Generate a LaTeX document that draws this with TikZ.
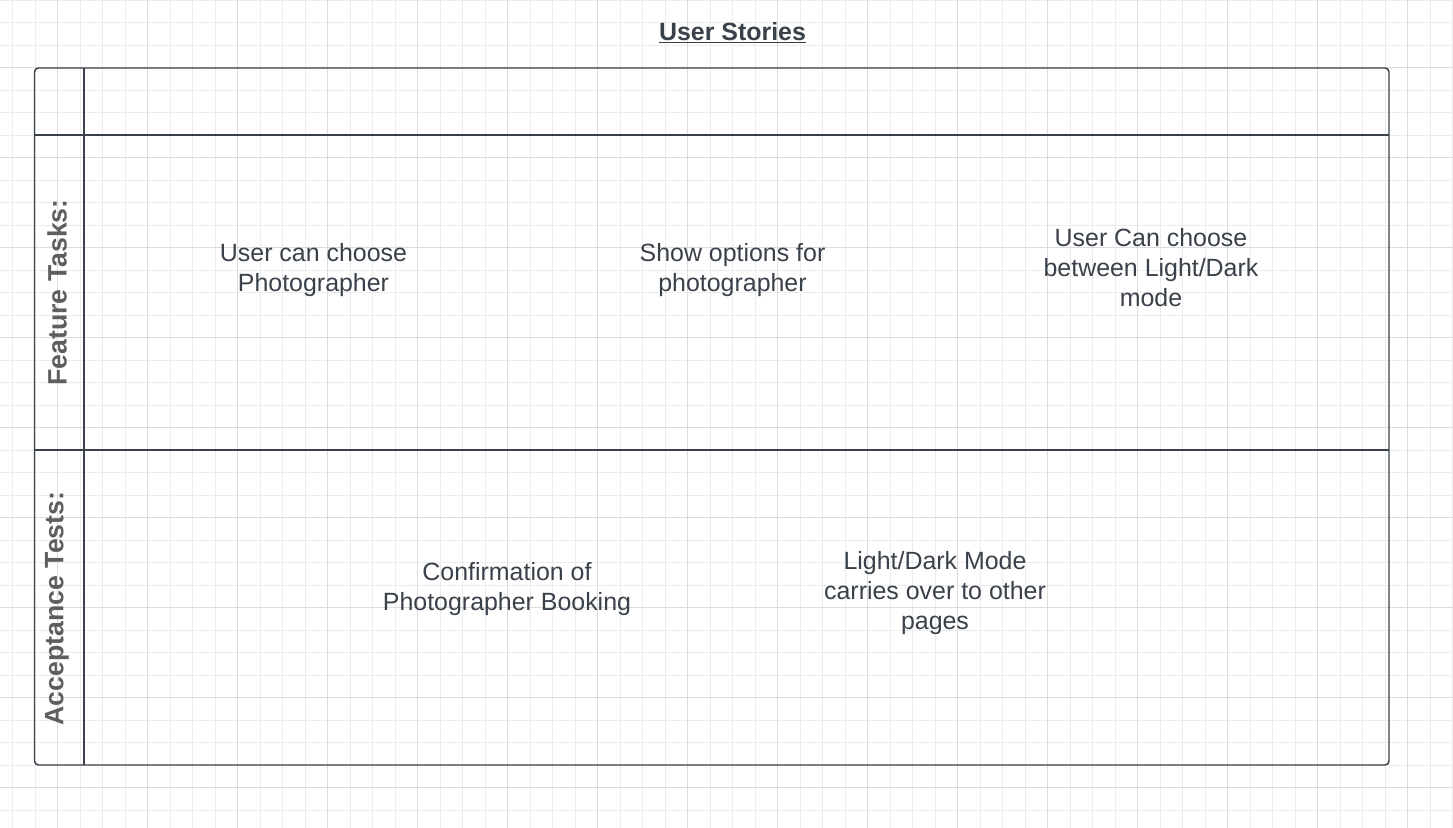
\documentclass[tikz,border=0pt]{standalone}
\usepackage{fontspec}
\setmainfont{Liberation Sans}
\definecolor{lucidText}{RGB}{58,65,74}
\definecolor{laneGray}{RGB}{94,94,94}
\definecolor{gridMinor}{RGB}{236,236,236}
\definecolor{gridMajor}{RGB}{220,220,220}
\tikzset{every picture/.style={line width=0.75pt}}
\tikzset{
  storyText/.style={align=center, text=lucidText, font=\fontsize{18.7}{22.5}\selectfont},
  laneLabel/.style={rotate=90, text=laneGray, font=\fontsize{20}{24}\selectfont\bfseries},
  laneLine/.style={draw={rgb, 255:red, 58; green, 65; blue, 74}, line width=1.1pt}
}
\begin{document}
\begin{tikzpicture}[x=0.75pt,y=0.75pt,yscale=-1,xscale=1]
	\useasboundingbox (0,0) rectangle (1453,828);
	\fill [white] (0,0) rectangle (1453,828);

	% Grid
	\foreach \gx in {0,...,64} {
		\draw [gridMinor] (12.5+22.5*\gx,0) -- (12.5+22.5*\gx,828);
	}
	\foreach \gy in {0,...,36} {
		\draw [gridMinor] (0,22.5*\gy) -- (1453,22.5*\gy);
	}
	\foreach \gx in {0,...,15} {
		\draw [gridMajor] (57.5+90*\gx,0) -- (57.5+90*\gx,828);
	}
	\foreach \gy in {0,...,8} {
		\draw [gridMajor] (0,67.5+90*\gy) -- (1453,67.5+90*\gy);
	}

	% Swimlanes
	\draw [laneLine, rounded corners=3] (34.5,68) rectangle (1389,765);
	\draw [laneLine] (84,68) -- (84,765);
	\draw [laneLine] (34.5,135) -- (1389,135);
	\draw [laneLine] (34.5,450) -- (1389,450);

	% Text Node
	\draw (732.5,33) node (title) [text=lucidText, font=\fontsize{18.7}{22.5}\selectfont\bfseries] {\underline{User Stories}};
	% Text Node
	\draw (57,292.5) node (featureLane) [laneLabel] {Feature Tasks:};
	% Text Node
	\draw (57,608.5) node (acceptLane) [laneLabel] {Acceptance Tests:};

	% Text Node
	\draw (313.5,270) node (choosePhoto) [storyText] {User can choose\\Photographer};
	% Text Node
	\draw (732.5,270) node (showOptions) [storyText] {Show options for\\photographer};
	% Text Node
	\draw (1151,268) node (chooseMode) [storyText] {User Can choose\\between Light/Dark\\mode};
	% Text Node
	\draw (507,589) node (confirmBooking) [storyText] {Confirmation of\\Photographer Booking};
	% Text Node
	\draw (935,593) node (modeCarries) [storyText] {Light/Dark Mode\\carries over to other\\pages};

\end{tikzpicture}
\end{document}
